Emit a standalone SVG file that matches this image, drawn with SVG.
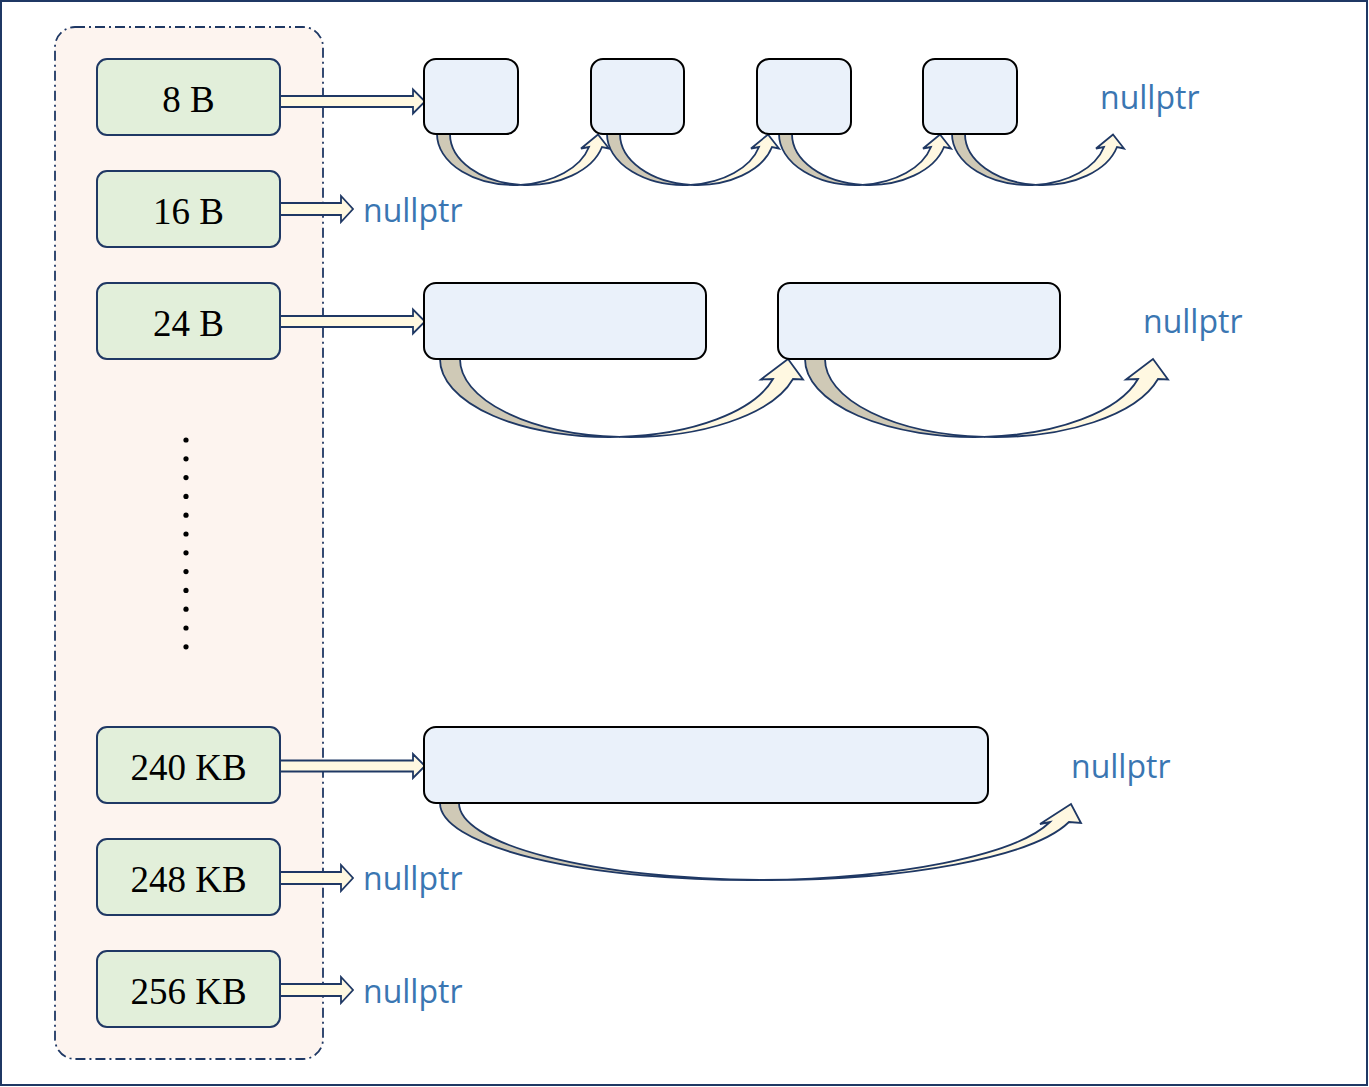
<svg xmlns="http://www.w3.org/2000/svg" width="1369" height="1087" viewBox="0 0 1369 1087">
<defs>
<style>
.frame{fill:#FFFFFF;stroke:#1F3864;stroke-width:2}
.panel{fill:#FDF4EF;stroke:#1F3864;stroke-width:1.8;stroke-dasharray:10 4 2 4}
.size{fill:#E2EFDA;stroke:#1F3864;stroke-width:2}
.blk{fill:#EAF1FA;stroke:#000000;stroke-width:2}
.lbl{font-family:"Liberation Serif","Times New Roman",serif;font-size:37px;fill:#000000;text-anchor:middle}
.np{font-family:"Open Sans","Noto Sans",sans-serif;font-size:32px;fill:#3A76B2}
.ba{fill:#FFF8E1;stroke:#1F3864;stroke-width:1.8}
.back{fill:#CFC9B6;stroke:#1F3864;stroke-width:1.8;stroke-linejoin:round}
.front{fill:#FFF8E1;stroke:#1F3864;stroke-width:1.8;stroke-linejoin:miter}
.dot{fill:#000000}
</style>
<path id="arrLong" class="ba" d="M280,-5.5 H413 V-12 L425,0 L413,12 V5.5 H280 Z"/>
<path id="arrShort" class="ba" d="M280,-6 H341 V-13 L353,0 L341,13 V6 H280 Z"/>
<g id="curveS">
<path class="front" d="M520.8,184.8 A77.3,51 0 0 0 602,147 L609,148.5 L598,134.5 L581,148.5 L589,147 A77.3,51 0 0 1 520.8,184.8 Z"/>
<path class="back" d="M437,134 A77.3,51 0 0 0 520.8,184.8 A77.3,51 0 0 1 450,134 Z"/>
</g>
<g id="curveM">
<path class="front" d="M619.3,436.9 A169.3,78 0 0 0 793,379 L803,379.5 L788,359 L761,379.5 L773,379 A169.3,78 0 0 1 619.3,436.9 Z"/>
<path class="back" d="M440,359 A169.3,78 0 0 0 619.3,436.9 A169.3,78 0 0 1 460,359 Z"/>
</g>
</defs>

<rect class="frame" x="1" y="1" width="1366" height="1084"/>

<g id="size-classes">
<rect class="panel" x="55" y="27" width="268" height="1032" rx="20" ry="20"/>
<g id="dots">
<circle class="dot" cx="186" cy="440" r="2.6"/>
<circle class="dot" cx="186" cy="458.8" r="2.6"/>
<circle class="dot" cx="186" cy="477.6" r="2.6"/>
<circle class="dot" cx="186" cy="496.4" r="2.6"/>
<circle class="dot" cx="186" cy="515.2" r="2.6"/>
<circle class="dot" cx="186" cy="534" r="2.6"/>
<circle class="dot" cx="186" cy="552.8" r="2.6"/>
<circle class="dot" cx="186" cy="571.6" r="2.6"/>
<circle class="dot" cx="186" cy="590.4" r="2.6"/>
<circle class="dot" cx="186" cy="609.2" r="2.6"/>
<circle class="dot" cx="186" cy="628" r="2.6"/>
<circle class="dot" cx="186" cy="646.8" r="2.6"/>
</g>
</g>

<g id="connectors">
<use href="#arrLong" transform="translate(0,101.5)"/>
<use href="#arrShort" transform="translate(0,209)"/>
<use href="#arrLong" transform="translate(0,321.5)"/>
<use href="#arrLong" transform="translate(0,766)"/>
<use href="#arrShort" transform="translate(0,878)"/>
<use href="#arrShort" transform="translate(0,990)"/>
<use href="#curveS"/>
<use href="#curveS" transform="translate(170,0)"/>
<use href="#curveS" transform="translate(342,0)"/>
<use href="#curveS" transform="translate(515,0)"/>
<use href="#curveM"/>
<use href="#curveM" transform="translate(365,0)"/>
<path class="front" d="M759.3,880 A309.8,77 0 0 0 1069,822 L1081,823 L1071,804 L1040,824 L1050,822 A309.8,77 0 0 1 759.3,880 Z"/>
<path class="back" d="M440,803 A309.8,77 0 0 0 759.3,880 A309.8,77 0 0 1 459,803 Z"/>
</g>

<g id="n-8B"><rect class="size" x="97" y="59" width="183" height="76" rx="10"/><text class="lbl" x="188.5" y="111.5">8 B</text></g>
<g id="n-16B"><rect class="size" x="97" y="171" width="183" height="76" rx="10"/><text class="lbl" x="188.5" y="224">16 B</text></g>
<g id="n-24B"><rect class="size" x="97" y="283" width="183" height="76" rx="10"/><text class="lbl" x="188.5" y="336">24 B</text></g>
<g id="n-240KB"><rect class="size" x="97" y="727" width="183" height="76" rx="10"/><text class="lbl" x="188.5" y="780">240 KB</text></g>
<g id="n-248KB"><rect class="size" x="97" y="839" width="183" height="76" rx="10"/><text class="lbl" x="188.5" y="892">248 KB</text></g>
<g id="n-256KB"><rect class="size" x="97" y="951" width="183" height="76" rx="10"/><text class="lbl" x="188.5" y="1004">256 KB</text></g>

<g id="b8-1"><rect class="blk" x="424" y="59" width="94" height="75" rx="12"/></g>
<g id="b8-2"><rect class="blk" x="591" y="59" width="93" height="75" rx="12"/></g>
<g id="b8-3"><rect class="blk" x="757" y="59" width="94" height="75" rx="12"/></g>
<g id="b8-4"><rect class="blk" x="923" y="59" width="94" height="75" rx="12"/></g>
<g id="b24-1"><rect class="blk" x="424" y="283" width="282" height="76" rx="12"/></g>
<g id="b24-2"><rect class="blk" x="778" y="283" width="282" height="76" rx="12"/></g>
<g id="b240-1"><rect class="blk" x="424" y="727" width="564" height="76" rx="12"/></g>

<g id="null-8B"><text class="np" x="1100" y="109">nullptr</text></g>
<g id="null-16B"><text class="np" x="363" y="221.5">nullptr</text></g>
<g id="null-24B"><text class="np" x="1143" y="333">nullptr</text></g>
<g id="null-240KB"><text class="np" x="1071" y="778">nullptr</text></g>
<g id="null-248KB"><text class="np" x="363" y="890">nullptr</text></g>
<g id="null-256KB"><text class="np" x="363" y="1002.5">nullptr</text></g>
</svg>
